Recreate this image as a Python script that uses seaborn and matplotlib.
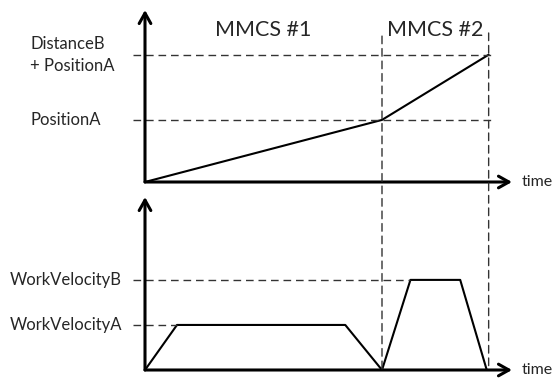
## motion profile sketch: position and velocity over two MMCS segments

import pandas as pd
import numpy as np
import seaborn as sns
import matplotlib.pyplot as plt
from matplotlib.patches import ConnectionPatch

# segment boundaries (time units) and labels
segment_end = [10, 14.5]
segment_names = ["MMCS #1", "MMCS #2"]

# position profile
pos_time = [0, 10, 14.5]
position = [0, 1.0, 2.05]
pos_levels = [1.0, 2.05]
pos_labels = ["PositionA", "DistanceB\n+ PositionA"]

# velocity profile
vel_time = [0, 1.35, 8.45, 10, 11.2, 13.3, 14.42]
velocity = [0, 1, 1, 0, 2, 2, 0]
vel_levels = [1, 2]
vel_labels = ["WorkVelocityA", "WorkVelocityB"]

sns.set_style("white")
plt.rcParams["font.family"] = ["Lato", "DejaVu Sans"]

fig = plt.figure(figsize=(5.53, 3.81), dpi=100)
ax_pos = fig.add_axes([145 / 553, 1 - 182 / 381, 367 / 553, 172 / 381])
ax_vel = fig.add_axes([145 / 553, 1 - 370 / 381, 367 / 553, 173 / 381])

xmax = 367 / 23.7
ax_pos.set_xlim(0, xmax)
ax_pos.set_ylim(0, 2.77)
ax_vel.set_xlim(0, xmax)
ax_vel.set_ylim(0, 3.84)

dash = dict(color="#333333", lw=1.0, linestyle=(0, (5.5, 3.5)), clip_on=False)

for ax in (ax_pos, ax_vel):
    for s in ax.spines.values():
        s.set_visible(False)
    ax.set_xticks([])
    ax.set_yticks([])
    ax.patch.set_alpha(0)
    arrow = dict(arrowstyle="->,head_length=0.75,head_width=0.42", lw=2.2, color="black",
                 shrinkA=0, shrinkB=0)
    ax.annotate("", xy=(0, 1), xytext=(0, 0), xycoords="axes fraction", arrowprops=arrow)
    ax.annotate("", xy=(1, 0), xytext=(0, 0), xycoords="axes fraction", arrowprops=arrow)
    ax.text(1.027, 0, "time", transform=ax.transAxes, ha="left", va="center", fontsize=11.5)

# position panel
pos_df = pd.DataFrame({"t": pos_time, "p": position})
sns.lineplot(data=pos_df, x="t", y="p", ax=ax_pos, color="black", lw=1.5)
ax_pos.plot([-0.5, 14.68], [pos_levels[1]] * 2, **dash)
ax_pos.plot([-0.5, 14.77], [pos_levels[0]] * 2, **dash)
for lvl, lab in zip(pos_levels, pos_labels):
    ax_pos.annotate(lab, xy=(0, lvl), xycoords=("axes fraction", "data"),
                    xytext=(-115 * 0.72, 0), textcoords="offset points",
                    ha="left", va="center", fontsize=12, linespacing=1.45)

starts = [0] + segment_end[:-1]
for a, b, name in zip(starts, segment_end, segment_names):
    ax_pos.text((a + b) / 2, 2.45, name, ha="center", va="center", fontsize=15.5)

# velocity panel
vel_df = pd.DataFrame({"t": vel_time, "v": velocity})
sns.lineplot(data=vel_df, x="t", y="v", ax=ax_vel, color="black", lw=1.5)
ax_vel.plot([-0.5, vel_time[4]], [vel_levels[1]] * 2, **dash)
ax_vel.plot([-0.5, vel_time[1]], [vel_levels[0]] * 2, **dash)
for lvl, lab in zip(vel_levels, vel_labels):
    ax_vel.annotate(lab, xy=(0, lvl), xycoords=("axes fraction", "data"),
                    xytext=(-135 * 0.72, 0), textcoords="offset points",
                    ha="left", va="center", fontsize=12)

for ax in (ax_pos, ax_vel):
    ax.set_xlabel("")
    ax.set_ylabel("")

# vertical segment dividers across both panels
for t, top in zip(segment_end, [2.35, 2.40]):
    con = ConnectionPatch(xyA=(t, top), coordsA=ax_pos.transData,
                          xyB=(t, 0), coordsB=ax_vel.transData,
                          color="#333333", lw=1.0, linestyle=(0, (5.5, 3.5)))
    fig.add_artist(con)

fig.savefig("out.png", dpi=100)
